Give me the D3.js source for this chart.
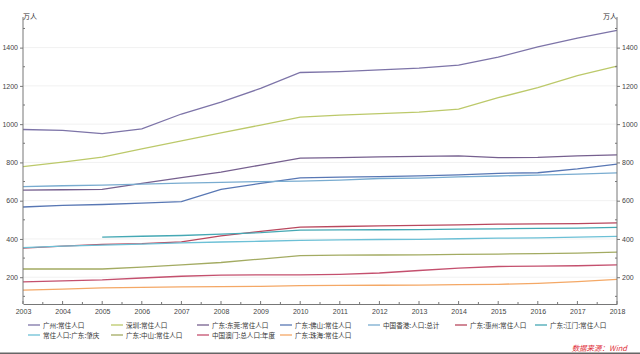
<!DOCTYPE html>
<html><head><meta charset="utf-8">
<script src="https://cdn.jsdelivr.net/npm/d3@7"></script>
<style>
body{margin:0;background:#fff;}
svg{display:block;font-family:"Noto Sans CJK SC","DejaVu Sans",sans-serif;}
</style></head>
<body><svg id="c" width="640" height="354"></svg>
<script>
const years = [2003,2004,2005,2006,2007,2008,2009,2010,2011,2012,2013,2014,2015,2016,2017,2018];
const guangzhou = [972,967,950,975,1053,1115,1187,1270,1275,1284,1293,1308,1350,1404,1450,1490];
const shenzhen  = [778,801,828,871,912,954,995,1037,1047,1055,1063,1078,1138,1191,1253,1303];
const dongguan  = [655,657,659,690,721,749,786,822,825,829,832,834,825,826,834,839];
const foshan    = [567,575,580,587,595,659,690,719,723,726,730,735,743,746,766,791];
const hongkong  = [673,678,681,686,692,696,700,702,707,716,718,724,729,734,739,745];
const huizhou   = [352,362,372,376,385,416,440,462,465,468,471,474,477,479,480,484];
const jiangmen  = [null,null,410,414,418,425,433,446,447,448,449,451,453,455,457,461];
const zhaoqing  = [355,363,368,373,379,384,388,393,395,397,398,401,404,406,409,413];
const zhongshan = [243,243,243,253,265,277,295,313,315,316,317,319,321,323,326,331];
const macau     = [176,181,186,196,205,211,212,212,215,222,235,248,256,258,260,264];
const zhuhai    = [132,138,144,147,149,151,152,156,157,158,159,161,163,168,177,189];
const seriesNames = ["广州:常住人口","深圳:常住人口","广东:东莞:常住人口","广东:佛山:常住人口","中国香港:人口:总计","广东:惠州:常住人口","广东:江门:常住人口","常住人口:广东:肇庆","广东:中山:常住人口","中国澳门:总人口:年度","广东:珠海:常住人口"];
const seriesValues = [guangzhou,shenzhen,dongguan,foshan,hongkong,huizhou,jiangmen,zhaoqing,zhongshan,macau,zhuhai];
const colors = ["#7d74a8","#bcc96a","#76608f","#5877b4","#79acd0","#b9485e","#45a8b4","#6cc0d6","#a3ab62","#c4506e","#f4a866"];
const yTicks = [200,400,600,800,1000,1200,1400];
const yMinor = [100,300,500,700,900,1100,1300,1500];
const unitLabel = "万人";
const sourceText = "数据来源：Wind";

const svg = d3.select("#c");
const x = d3.scaleLinear().domain([2003,2018]).range([23,617]);
const y = d3.scaleLinear().domain([60,1560]).range([304,17]);

// gridlines
svg.append("g").selectAll("line").data(yTicks).join("line")
  .attr("x1",23).attr("x2",617).attr("y1",d=>y(d)).attr("y2",d=>y(d))
  .attr("stroke","#f1f1f1").attr("stroke-width",1);

// lines
const line = d3.line().defined(d=>d.v!=null).x(d=>x(d.yr)).y(d=>y(d.v));
seriesValues.forEach((vals,i)=>{
  svg.append("path").datum(years.map((yr,j)=>({yr,v:vals[j]})))
    .attr("d",line).attr("fill","none").attr("stroke",colors[i]).attr("stroke-width",1.3);
});

const axColor="#777";
const fmt = d3.format("d");
const gl = svg.append("g").attr("transform","translate(23,0)").call(d3.axisLeft(y).tickValues(yTicks).tickFormat(fmt).tickSize(3).tickPadding(2));
const gr = svg.append("g").attr("transform","translate(617,0)").call(d3.axisRight(y).tickValues(yTicks).tickFormat(fmt).tickSize(3).tickPadding(2));
[gl,gr].forEach(g=>{
  g.select(".domain").attr("stroke",axColor).attr("d","M0,17V304");
  g.selectAll(".tick line").attr("stroke",axColor);
  g.selectAll("text").attr("fill","#444").attr("font-size","7px").attr("font-family","Liberation Sans, Arial, sans-serif");
});
[[23,1],[617,-1]].forEach(([ax,dir])=>{
  svg.append("g").selectAll("line").data(yMinor).join("line")
    .attr("x1",ax).attr("x2",ax+dir*2).attr("y1",d=>y(d)).attr("y2",d=>y(d)).attr("stroke",axColor);
});
// x axis
const gx = svg.append("g").attr("transform","translate(0,304)")
  .call(d3.axisBottom(x).tickValues(years).tickFormat(fmt).tickSize(0).tickPadding(5));
gx.select(".domain").attr("stroke",axColor);
gx.selectAll("text").attr("fill","#444").attr("font-size","7px").attr("font-family","Liberation Sans, Arial, sans-serif");
svg.append("g").selectAll("line").data(years).join("line")
  .attr("x1",d=>x(d)).attr("x2",d=>x(d)).attr("y1",304).attr("y2",301).attr("stroke",axColor);
svg.append("g").selectAll("line").data(years.slice(0,-1)).join("line")
  .attr("x1",d=>x(d+0.5)).attr("x2",d=>x(d+0.5)).attr("y1",304).attr("y2",302).attr("stroke",axColor);

// unit labels
svg.append("text").attr("x",23).attr("y",19).attr("font-size","7px").attr("fill","#333").text(unitLabel);
svg.append("text").attr("x",617).attr("y",19).attr("text-anchor","end").attr("font-size","7px").attr("fill","#333").text(unitLabel);

// legend
const colX=[28,111,197,280,368,455,535];
const lg = svg.append("g");
seriesNames.forEach((n,i)=>{
  const r = i<7?0:1, c = i<7?i:i-7;
  const lx=colX[c], ly = r===0?325:335;
  lg.append("line").attr("x1",lx).attr("x2",lx+12).attr("y1",ly).attr("y2",ly).attr("stroke",colors[i]).attr("stroke-width",1.3);
  lg.append("text").attr("x",lx+15).attr("y",ly+2.5).attr("font-size","6.6px").attr("fill","#333").text(n);
});

// source
svg.append("text").attr("x",627).attr("y",351).attr("text-anchor","end").attr("font-size","7.5px")
  .attr("font-style","italic").attr("fill","#e0303a").text(sourceText);
// bottom strip
svg.append("rect").attr("x",0).attr("y",352.5).attr("width",640).attr("height",2).attr("fill","#666");
</script></body></html>
